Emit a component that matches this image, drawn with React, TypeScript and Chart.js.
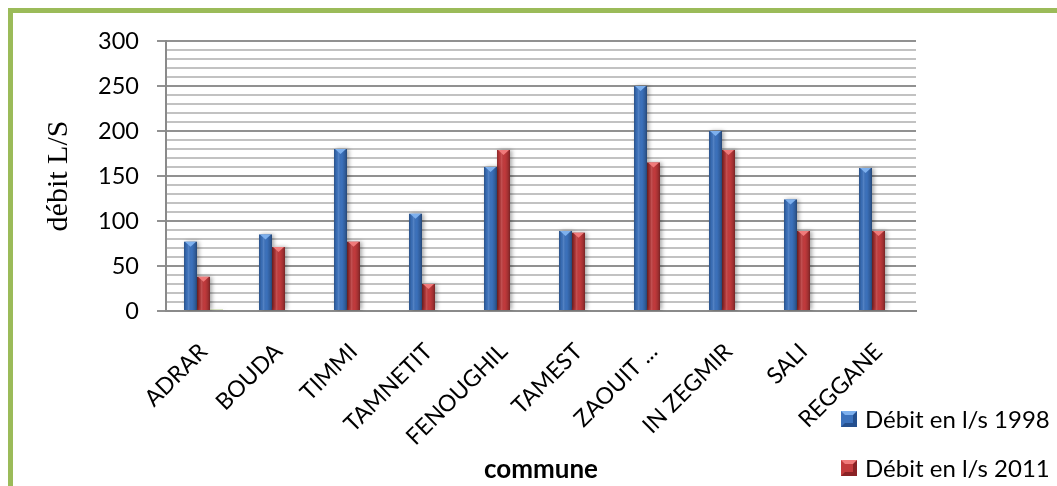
import React, { useEffect, useRef } from "react";
import { Chart, registerables } from "chart.js";

Chart.register(...registerables);

const communes = ["ADRAR", "BOUDA", "TIMMI", "TAMNETIT", "FENOUGHIL", "TAMEST", "ZAOUIT ...", "IN ZEGMIR", "SALI", "REGGANE"];
const debit1998 = [77, 85, 180, 108, 160, 89, 250, 200, 124, 159];
const debit2011 = [38, 71, 77, 30, 179, 87, 165, 179, 89, 89];
const debitOther = [1.5, null, null, null, null, null, null, null, null, null];
const seriesLabels = ["Débit en l/s 1998", "Débit en l/s 2011"];
const yTicks = [0, 50, 100, 150, 200, 250, 300];

const BLUE = "#3b71bc";
const RED = "#c23a3c";
const GREEN = "#9bbb59";
const CAP = ["#7db0ee", "#f07a7a"];

const barStylePlugin = {
  id: "barStyle",
  beforeDatasetsDraw(chart: any) {
    const ctx = chart.ctx;
    ctx.save();
    ctx.shadowColor = "rgba(0,0,0,0.35)";
    ctx.shadowBlur = 4;
    ctx.shadowOffsetX = 2;
    ctx.shadowOffsetY = 0;
  },
  afterDatasetsDraw(chart: any) {
    const ctx = chart.ctx;
    ctx.restore();
    ctx.save();
    chart.data.datasets.forEach((ds: any, di: number) => {
      if (di > 1) return;
      const meta = chart.getDatasetMeta(di);
      meta.data.forEach((el: any) => {
        const w = el.width;
        const left = el.x - w / 2;
        const top = el.y;
        const h = el.base - el.y;
        if (!(h > 0)) return;
        const g = ctx.createLinearGradient(left, 0, left + w, 0);
        g.addColorStop(0, "rgba(0,0,0,0.28)");
        g.addColorStop(0.18, "rgba(0,0,0,0.05)");
        g.addColorStop(0.35, "rgba(255,255,255,0.12)");
        g.addColorStop(0.6, "rgba(0,0,0,0)");
        g.addColorStop(0.85, "rgba(0,0,0,0.18)");
        g.addColorStop(1, "rgba(0,0,0,0.38)");
        ctx.fillStyle = g;
        ctx.fillRect(left, top, w, h);
        ctx.beginPath();
        ctx.moveTo(left + 1, top);
        ctx.lineTo(left + w - 1, top);
        ctx.lineTo(el.x, top + 5);
        ctx.closePath();
        ctx.fillStyle = CAP[di];
        ctx.fill();
      });
    });
    ctx.restore();
  },
};

function LegendMarker({ color, light, dark }: { color: string; light: string; dark: string }) {
  return (
    <span
      style={{
        display: "inline-block",
        width: 8,
        height: 8,
        borderStyle: "solid",
        borderWidth: 4,
        borderTopColor: light,
        borderLeftColor: color,
        borderRightColor: dark,
        borderBottomColor: dark,
        background: color,
        marginRight: 8,
      }}
    />
  );
}

export default function App() {
  const ref = useRef<HTMLCanvasElement>(null);
  useEffect(() => {
    if (!ref.current) return;
    const chart = new Chart(ref.current, {
      type: "bar",
      data: {
        labels: communes,
        datasets: [
          { label: seriesLabels[0], data: debit1998, backgroundColor: BLUE, barPercentage: 1, categoryPercentage: 0.52 },
          { label: seriesLabels[1], data: debit2011, backgroundColor: RED, barPercentage: 1, categoryPercentage: 0.52 },
          { label: "", data: debitOther as any, backgroundColor: GREEN, barPercentage: 1, categoryPercentage: 0.52 },
        ],
      },
      options: {
        responsive: false,
        animation: false,
        events: [],
        layout: { padding: { top: 41, right: 141, left: 0, bottom: 0 } },
        plugins: { legend: { display: false }, tooltip: { enabled: false } },
        scales: {
          x: {
            grid: { display: false, drawTicks: false },
            border: { display: true, color: "#8a8a8a", width: 2 },
            ticks: {
              autoSkip: false,
              minRotation: 45,
              maxRotation: 45,
              padding: 27,
              color: "#000",
              font: { family: "Lato", size: 23 },
            },
            title: {
              display: true,
              text: "commune",
              color: "#000",
              font: { family: "Lato", size: 26, weight: "bold" },
              padding: { top: 0, bottom: 1 },
            },
            afterFit(scale: any) {
              scale.height = 175;
            },
          },
          y: {
            min: 0,
            max: 300,
            grid: {
              color: (c: any) => (c.tick && c.tick.value % 50 === 0 ? "#919191" : "#c2c2c2"),
              tickColor: (c: any) => (c.tick && c.tick.value % 50 === 0 ? "#919191" : "rgba(0,0,0,0)"),
              lineWidth: 2,
              tickLength: 9,
            },
            border: { display: true, color: "#8a8a8a", width: 2 },
            ticks: {
              stepSize: 10,
              autoSkip: false,
              padding: 18,
              color: "#000",
              font: { family: "Lato", size: 23.5 },
              callback: (v: any) => (yTicks.includes(Number(v)) ? String(v) : ""),
            },
            title: {
              display: true,
              text: "débit L/S",
              color: "#000",
              font: { family: "Liberation Serif", size: 30 },
              padding: { top: 41, bottom: 0 },
            },
            afterFit(scale: any) {
              scale.width = 166;
            },
          },
        },
      },
      plugins: [barStylePlugin],
    } as any);
    return () => chart.destroy();
  }, []);

  const legendText: React.CSSProperties = { fontFamily: "Lato", fontSize: 24, color: "#000", lineHeight: "26px" };
  return (
    <div>
      <div
        style={{
          position: "fixed",
          left: 8,
          top: 8,
          width: 1049,
          height: 478,
          borderTop: `5px solid ${GREEN}`,
          borderLeft: `5px solid ${GREEN}`,
          boxSizing: "border-box",
          background: "#fff",
        }}
      />
      <canvas ref={ref} width={1057} height={486} style={{ position: "fixed", left: 0, top: 0, width: 1057, height: 486 }} />
      <div style={{ position: "fixed", left: 841, top: 406, display: "flex", alignItems: "center", ...legendText }}>
        <LegendMarker color="#3b71bc" light="#7db0ee" dark="#244f8e" />
        <span>{seriesLabels[0]}</span>
      </div>
      <div style={{ position: "fixed", left: 841, top: 455, display: "flex", alignItems: "center", ...legendText }}>
        <LegendMarker color="#c23a3c" light="#f07a7a" dark="#8a2225" />
        <span>{seriesLabels[1]}</span>
      </div>
    </div>
  );
}
